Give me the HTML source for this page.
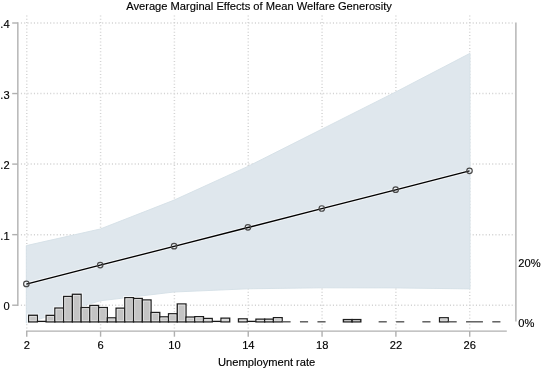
<!DOCTYPE html><html><head><meta charset="utf-8"><style>html,body{margin:0;padding:0;background:#fff;overflow:hidden}svg{display:block;will-change:transform}</style></head><body>
<svg width="542" height="370" viewBox="0 0 542 370" style="font-family:'Liberation Sans', sans-serif;">
<g stroke="#d3d3d3" stroke-width="1.5" stroke-dasharray="1.1 2.15" fill="none">
<line x1="20.9" y1="305.20" x2="515" y2="305.20"/>
<line x1="20.9" y1="234.65" x2="515" y2="234.65"/>
<line x1="20.9" y1="164.10" x2="515" y2="164.10"/>
<line x1="20.9" y1="93.55" x2="515" y2="93.55"/>
<line x1="20.9" y1="23.00" x2="515" y2="23.00"/>
<line x1="26.75" y1="15.45" x2="26.75" y2="329"/>
<line x1="100.58" y1="15.45" x2="100.58" y2="329"/>
<line x1="174.41" y1="15.45" x2="174.41" y2="329"/>
<line x1="248.23" y1="15.45" x2="248.23" y2="329"/>
<line x1="322.06" y1="15.45" x2="322.06" y2="329"/>
<line x1="395.89" y1="15.45" x2="395.89" y2="329"/>
<line x1="469.72" y1="15.45" x2="469.72" y2="329"/>
</g>
<polygon fill="#dfe7ed" stroke="#d5e0e7" stroke-width="0.9" stroke-linejoin="round" points="26.30,245.60 100.21,229.00 174.07,200.10 247.93,166.40 321.79,129.20 395.65,92.00 470.01,53.30 470.01,288.90 395.65,287.90 321.79,287.80 247.93,288.80 174.07,292.00 100.21,300.80 26.30,323.00"/>
<g fill="none" stroke="#fff" stroke-opacity="0.6" stroke-width="3.4">
<rect x="28.65" y="315.25" width="8.74" height="6.65"/>
<rect x="46.13" y="315.35" width="8.74" height="6.55"/>
<rect x="54.88" y="308.05" width="8.74" height="13.85"/>
<rect x="63.62" y="296.45" width="8.74" height="25.45"/>
<rect x="72.36" y="294.25" width="8.74" height="27.65"/>
<rect x="81.10" y="307.55" width="8.74" height="14.35"/>
<rect x="89.84" y="305.45" width="8.74" height="16.45"/>
<rect x="98.59" y="307.55" width="8.74" height="14.35"/>
<rect x="107.33" y="317.85" width="8.74" height="4.05"/>
<rect x="116.07" y="308.15" width="8.74" height="13.75"/>
<rect x="124.81" y="297.65" width="8.74" height="24.25"/>
<rect x="133.55" y="298.45" width="8.74" height="23.45"/>
<rect x="142.30" y="299.95" width="8.74" height="21.95"/>
<rect x="151.04" y="312.45" width="8.74" height="9.45"/>
<rect x="159.78" y="316.85" width="8.74" height="5.05"/>
<rect x="168.52" y="313.75" width="8.74" height="8.15"/>
<rect x="177.26" y="303.95" width="8.74" height="17.95"/>
<rect x="186.01" y="317.05" width="8.74" height="4.85"/>
<rect x="194.75" y="316.65" width="8.74" height="5.25"/>
<rect x="203.49" y="318.45" width="8.74" height="3.45"/>
<rect x="220.97" y="318.15" width="8.74" height="3.75"/>
<rect x="238.46" y="318.85" width="8.74" height="3.05"/>
<rect x="255.94" y="319.15" width="8.74" height="2.75"/>
<rect x="264.68" y="319.15" width="8.74" height="2.75"/>
<rect x="273.43" y="317.65" width="8.74" height="4.25"/>
<rect x="343.36" y="319.55" width="8.74" height="2.35"/>
<rect x="352.10" y="319.55" width="8.74" height="2.35"/>
<rect x="439.52" y="317.75" width="8.74" height="4.15"/>
</g>
<g>
<rect x="28.65" y="315.25" width="8.74" height="6.65" fill="#c4c4c4" stroke="#1e1e1e" stroke-width="1.3"/>
<rect x="29.80" y="316.40" width="6.44" height="4.35" fill="none" stroke="#e4e4e4" stroke-width="0.8"/>
<line x1="37.39" y1="321.4" x2="46.13" y2="321.4" stroke="#151515" stroke-width="1.3"/>
<rect x="46.13" y="315.35" width="8.74" height="6.55" fill="#c4c4c4" stroke="#1e1e1e" stroke-width="1.3"/>
<rect x="47.28" y="316.50" width="6.44" height="4.25" fill="none" stroke="#e4e4e4" stroke-width="0.8"/>
<rect x="54.88" y="308.05" width="8.74" height="13.85" fill="#c4c4c4" stroke="#1e1e1e" stroke-width="1.3"/>
<rect x="56.03" y="309.20" width="6.44" height="11.55" fill="none" stroke="#e4e4e4" stroke-width="0.8"/>
<rect x="63.62" y="296.45" width="8.74" height="25.45" fill="#c4c4c4" stroke="#1e1e1e" stroke-width="1.3"/>
<rect x="64.77" y="297.60" width="6.44" height="23.15" fill="none" stroke="#e4e4e4" stroke-width="0.8"/>
<rect x="72.36" y="294.25" width="8.74" height="27.65" fill="#c4c4c4" stroke="#1e1e1e" stroke-width="1.3"/>
<rect x="73.51" y="295.40" width="6.44" height="25.35" fill="none" stroke="#e4e4e4" stroke-width="0.8"/>
<rect x="81.10" y="307.55" width="8.74" height="14.35" fill="#c4c4c4" stroke="#1e1e1e" stroke-width="1.3"/>
<rect x="82.25" y="308.70" width="6.44" height="12.05" fill="none" stroke="#e4e4e4" stroke-width="0.8"/>
<rect x="89.84" y="305.45" width="8.74" height="16.45" fill="#c4c4c4" stroke="#1e1e1e" stroke-width="1.3"/>
<rect x="90.99" y="306.60" width="6.44" height="14.15" fill="none" stroke="#e4e4e4" stroke-width="0.8"/>
<rect x="98.59" y="307.55" width="8.74" height="14.35" fill="#c4c4c4" stroke="#1e1e1e" stroke-width="1.3"/>
<rect x="99.74" y="308.70" width="6.44" height="12.05" fill="none" stroke="#e4e4e4" stroke-width="0.8"/>
<rect x="107.33" y="317.85" width="8.74" height="4.05" fill="#c4c4c4" stroke="#1e1e1e" stroke-width="1.3"/>
<rect x="108.48" y="319.00" width="6.44" height="1.75" fill="none" stroke="#e4e4e4" stroke-width="0.8"/>
<rect x="116.07" y="308.15" width="8.74" height="13.75" fill="#c4c4c4" stroke="#1e1e1e" stroke-width="1.3"/>
<rect x="117.22" y="309.30" width="6.44" height="11.45" fill="none" stroke="#e4e4e4" stroke-width="0.8"/>
<rect x="124.81" y="297.65" width="8.74" height="24.25" fill="#c4c4c4" stroke="#1e1e1e" stroke-width="1.3"/>
<rect x="125.96" y="298.80" width="6.44" height="21.95" fill="none" stroke="#e4e4e4" stroke-width="0.8"/>
<rect x="133.55" y="298.45" width="8.74" height="23.45" fill="#c4c4c4" stroke="#1e1e1e" stroke-width="1.3"/>
<rect x="134.70" y="299.60" width="6.44" height="21.15" fill="none" stroke="#e4e4e4" stroke-width="0.8"/>
<rect x="142.30" y="299.95" width="8.74" height="21.95" fill="#c4c4c4" stroke="#1e1e1e" stroke-width="1.3"/>
<rect x="143.45" y="301.10" width="6.44" height="19.65" fill="none" stroke="#e4e4e4" stroke-width="0.8"/>
<rect x="151.04" y="312.45" width="8.74" height="9.45" fill="#c4c4c4" stroke="#1e1e1e" stroke-width="1.3"/>
<rect x="152.19" y="313.60" width="6.44" height="7.15" fill="none" stroke="#e4e4e4" stroke-width="0.8"/>
<rect x="159.78" y="316.85" width="8.74" height="5.05" fill="#c4c4c4" stroke="#1e1e1e" stroke-width="1.3"/>
<rect x="160.93" y="318.00" width="6.44" height="2.75" fill="none" stroke="#e4e4e4" stroke-width="0.8"/>
<rect x="168.52" y="313.75" width="8.74" height="8.15" fill="#c4c4c4" stroke="#1e1e1e" stroke-width="1.3"/>
<rect x="169.67" y="314.90" width="6.44" height="5.85" fill="none" stroke="#e4e4e4" stroke-width="0.8"/>
<rect x="177.26" y="303.95" width="8.74" height="17.95" fill="#c4c4c4" stroke="#1e1e1e" stroke-width="1.3"/>
<rect x="178.41" y="305.10" width="6.44" height="15.65" fill="none" stroke="#e4e4e4" stroke-width="0.8"/>
<rect x="186.01" y="317.05" width="8.74" height="4.85" fill="#c4c4c4" stroke="#1e1e1e" stroke-width="1.3"/>
<rect x="187.16" y="318.20" width="6.44" height="2.55" fill="none" stroke="#e4e4e4" stroke-width="0.8"/>
<rect x="194.75" y="316.65" width="8.74" height="5.25" fill="#c4c4c4" stroke="#1e1e1e" stroke-width="1.3"/>
<rect x="195.90" y="317.80" width="6.44" height="2.95" fill="none" stroke="#e4e4e4" stroke-width="0.8"/>
<rect x="203.49" y="318.45" width="8.74" height="3.45" fill="#c4c4c4" stroke="#1e1e1e" stroke-width="1.3"/>
<rect x="204.64" y="319.60" width="6.44" height="1.15" fill="none" stroke="#e4e4e4" stroke-width="0.8"/>
<line x1="212.23" y1="321.4" x2="220.97" y2="321.4" stroke="#151515" stroke-width="1.3"/>
<rect x="220.97" y="318.15" width="8.74" height="3.75" fill="#c4c4c4" stroke="#1e1e1e" stroke-width="1.3"/>
<rect x="222.12" y="319.30" width="6.44" height="1.45" fill="none" stroke="#e4e4e4" stroke-width="0.8"/>
<rect x="238.46" y="318.85" width="8.74" height="3.05" fill="#c4c4c4" stroke="#1e1e1e" stroke-width="1.3"/>
<rect x="239.61" y="320.00" width="6.44" height="0.75" fill="none" stroke="#e4e4e4" stroke-width="0.8"/>
<line x1="247.20" y1="321.4" x2="255.94" y2="321.4" stroke="#151515" stroke-width="1.3"/>
<rect x="255.94" y="319.15" width="8.74" height="2.75" fill="#c4c4c4" stroke="#1e1e1e" stroke-width="1.3"/>
<rect x="257.09" y="320.30" width="6.44" height="0.45" fill="none" stroke="#e4e4e4" stroke-width="0.8"/>
<rect x="264.68" y="319.15" width="8.74" height="2.75" fill="#c4c4c4" stroke="#1e1e1e" stroke-width="1.3"/>
<rect x="265.83" y="320.30" width="6.44" height="0.45" fill="none" stroke="#e4e4e4" stroke-width="0.8"/>
<rect x="273.43" y="317.65" width="8.74" height="4.25" fill="#c4c4c4" stroke="#1e1e1e" stroke-width="1.3"/>
<rect x="274.58" y="318.80" width="6.44" height="1.95" fill="none" stroke="#e4e4e4" stroke-width="0.8"/>
<line x1="282.47" y1="321.8" x2="290.61" y2="321.8" stroke="#555" stroke-width="1.4"/>
<line x1="299.95" y1="321.8" x2="308.09" y2="321.8" stroke="#555" stroke-width="1.4"/>
<line x1="317.44" y1="321.8" x2="325.58" y2="321.8" stroke="#555" stroke-width="1.4"/>
<rect x="343.36" y="319.55" width="8.74" height="2.35" fill="#c4c4c4" stroke="#1e1e1e" stroke-width="1.3"/>
<line x1="344.46" y1="320.72" x2="351.00" y2="320.72" stroke="#d8d8d8" stroke-width="0.7"/>
<rect x="352.10" y="319.55" width="8.74" height="2.35" fill="#c4c4c4" stroke="#1e1e1e" stroke-width="1.3"/>
<line x1="353.20" y1="320.72" x2="359.75" y2="320.72" stroke="#d8d8d8" stroke-width="0.7"/>
<line x1="378.63" y1="321.8" x2="386.77" y2="321.8" stroke="#555" stroke-width="1.4"/>
<line x1="396.11" y1="321.8" x2="404.26" y2="321.8" stroke="#555" stroke-width="1.4"/>
<line x1="422.34" y1="321.8" x2="430.48" y2="321.8" stroke="#555" stroke-width="1.4"/>
<rect x="439.52" y="317.75" width="8.74" height="4.15" fill="#c4c4c4" stroke="#1e1e1e" stroke-width="1.3"/>
<rect x="440.67" y="318.90" width="6.44" height="1.85" fill="none" stroke="#e4e4e4" stroke-width="0.8"/>
<line x1="448.57" y1="321.8" x2="456.71" y2="321.8" stroke="#555" stroke-width="1.4"/>
<line x1="466.05" y1="321.8" x2="482.93" y2="321.8" stroke="#555" stroke-width="1.4"/>
<line x1="492.28" y1="321.8" x2="500.42" y2="321.8" stroke="#555" stroke-width="1.4"/>
</g>
<polyline fill="none" stroke="#fff" stroke-opacity="0.55" stroke-width="3.6" points="26.35,284.05 100.21,265.20 174.07,246.35 247.93,227.50 321.79,208.65 395.65,189.80 469.51,170.95"/>
<polyline fill="none" stroke="#000" stroke-width="1.35" points="26.35,284.05 100.21,265.20 174.07,246.35 247.93,227.50 321.79,208.65 395.65,189.80 469.51,170.95"/>
<g fill="none" stroke="#4a4a4a" stroke-width="1.2">
<circle cx="26.35" cy="283.90" r="2.75"/>
<circle cx="100.21" cy="265.05" r="2.75"/>
<circle cx="174.07" cy="246.20" r="2.75"/>
<circle cx="247.93" cy="227.35" r="2.75"/>
<circle cx="321.79" cy="208.50" r="2.75"/>
<circle cx="395.65" cy="189.65" r="2.75"/>
<circle cx="469.51" cy="170.80" r="2.75"/>
</g>
<g stroke="#b0b0b0" stroke-width="1.4" fill="none">
<line x1="17.85" y1="22.30" x2="17.85" y2="305.90"/>
<line x1="12.2" y1="305.20" x2="17.85" y2="305.20"/>
<line x1="12.2" y1="234.65" x2="17.85" y2="234.65"/>
<line x1="12.2" y1="164.10" x2="17.85" y2="164.10"/>
<line x1="12.2" y1="93.55" x2="17.85" y2="93.55"/>
<line x1="12.2" y1="23.00" x2="17.85" y2="23.00"/>
<line x1="26.05" y1="331.1" x2="506.8" y2="331.1"/>
<line x1="26.75" y1="331.1" x2="26.75" y2="336.7"/>
<line x1="100.58" y1="331.1" x2="100.58" y2="336.7"/>
<line x1="174.41" y1="331.1" x2="174.41" y2="336.7"/>
<line x1="248.23" y1="331.1" x2="248.23" y2="336.7"/>
<line x1="322.06" y1="331.1" x2="322.06" y2="336.7"/>
<line x1="395.89" y1="331.1" x2="395.89" y2="336.7"/>
<line x1="469.72" y1="331.1" x2="469.72" y2="336.7"/>
<line x1="515.9" y1="22.5" x2="515.9" y2="321.6"/>
</g>
<g fill="#000" stroke="#000" stroke-width="0.15" font-size="11.15">
<text x="9.6" y="310.30" text-anchor="end">0</text>
<text x="9.6" y="239.75" text-anchor="end">.1</text>
<text x="9.6" y="169.20" text-anchor="end">.2</text>
<text x="9.6" y="98.65" text-anchor="end">.3</text>
<text x="9.6" y="28.10" text-anchor="end">.4</text>
<text x="26.85" y="348.8" text-anchor="middle">2</text>
<text x="100.68" y="348.8" text-anchor="middle">6</text>
<text x="174.51" y="348.8" text-anchor="middle">10</text>
<text x="248.33" y="348.8" text-anchor="middle">14</text>
<text x="322.16" y="348.8" text-anchor="middle">18</text>
<text x="395.99" y="348.8" text-anchor="middle">22</text>
<text x="469.82" y="348.8" text-anchor="middle">26</text>
<text x="518.3" y="266.8" >20%</text>
<text x="518.3" y="327.2" >0%</text>
<text x="266.7" y="365.7" text-anchor="middle">Unemployment rate</text>
<text x="259.0" y="9.8" text-anchor="middle">Average Marginal Effects of Mean Welfare Generosity</text>
</g>
</svg></body></html>
